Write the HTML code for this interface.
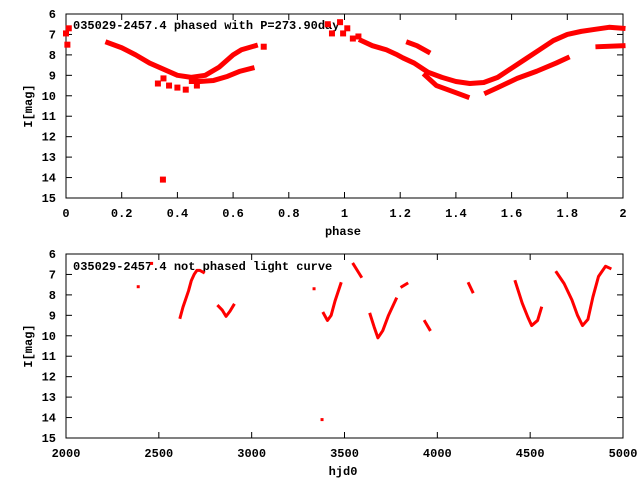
<!DOCTYPE html>
<html><head><meta charset="utf-8"><style>
body{margin:0;background:#fff}
svg{display:block}
text{font-family:"Liberation Mono",monospace;font-weight:bold;font-size:12px;fill:#000}
</style></head><body>
<svg id="c" width="640" height="480"></svg>
<script>
// ---- phased plot data (phase, magnitude) ----
const phIsoPhase=[0.0,0.01,0.005,0.71,0.33,0.37,0.40,0.43,0.35,0.47,0.348,0.94,0.955,0.984,0.995,1.01,1.03,1.05];
const phIsoMag  =[6.95,6.7,7.5,7.6,9.4,9.5,9.6,9.7,9.15,9.5,14.1,6.5,6.95,6.4,6.95,6.7,7.2,7.1];
const phUpperPhase=[0.15,0.2,0.25,0.3,0.35,0.4,0.45,0.5,0.55,0.6,0.63,0.68];
const phUpperMag  =[7.4,7.65,8.0,8.4,8.7,9.0,9.1,9.0,8.6,8.0,7.75,7.55];
const phLowerPhase=[0.45,0.48,0.53,0.58,0.625,0.668];
const phLowerMag  =[9.3,9.3,9.25,9.05,8.8,8.65];
const phMainPhase=[1.06,1.1,1.15,1.19,1.21,1.25,1.30,1.35,1.40,1.45,1.5,1.55,1.6,1.65,1.7,1.75,1.8,1.85,1.9,1.95,2.0];
const phMainMag  =[7.3,7.55,7.75,8.0,8.15,8.4,8.85,9.1,9.3,9.4,9.35,9.1,8.65,8.2,7.75,7.3,7.0,6.85,6.75,6.65,6.7];
const phShortPhase=[1.23,1.26,1.3];
const phShortMag  =[7.4,7.55,7.85];
const phLow2aPhase=[1.29,1.33,1.40,1.44];
const phLow2aMag  =[9.0,9.5,9.85,10.05];
const phLow2bPhase=[1.51,1.55,1.62,1.69,1.76,1.8];
const phLow2bMag  =[9.85,9.6,9.15,8.8,8.4,8.15];
const phRightPhase=[1.91,2.0];
const phRightMag  =[7.6,7.55];
// ---- unphased light curve (hjd0, magnitude) segments ----
const lcSegTimes=[
 [2615,2630,2645,2660,2675,2690,2705,2720,2740],
 [2821,2842,2862,2883,2903],
 [3387,3408,3428,3449,3480],
 [3548,3572,3589],
 [3638,3659,3680,3706,3737,3778],
 [3809,3836],
 [3933,3959],
 [4169,4190],
 [4420,4457,4488,4508,4540,4560],
 [4642,4683,4725,4755,4782,4811,4838,4868,4906,4930]];
const lcSegMags=[
 [9.1,8.6,8.2,7.8,7.3,7.0,6.8,6.8,6.9],
 [8.55,8.75,9.05,8.8,8.5],
 [8.9,9.25,9.0,8.3,7.45],
 [6.5,6.85,7.1],
 [8.95,9.55,10.1,9.75,9.0,8.2],
 [7.6,7.45],
 [9.3,9.7],
 [7.45,7.85],
 [7.35,8.4,9.1,9.5,9.25,8.65],
 [6.9,7.45,8.25,9.0,9.5,9.2,8.1,7.1,6.6,6.7]];
const lcIsoTimes=[2389,2461,3336,3379];
const lcIsoMags =[7.6,6.46,7.7,14.1];
const magTicks=[6,7,8,9,10,11,12,13,14,15];
const phaseTicks=[0,0.2,0.4,0.6,0.8,1,1.2,1.4,1.6,1.8,2];
const phaseTickLabels=["0","0.2","0.4","0.6","0.8","1","1.2","1.4","1.6","1.8","2"];
const hjdTicks=[2000,2500,3000,3500,4000,4500,5000];

const svg=document.getElementById('c');
const NS='http://www.w3.org/2000/svg';
function mk(tag,attrs,parent){const e=document.createElementNS(NS,tag);for(const k in attrs)e.setAttribute(k,attrs[k]);(parent||svg).appendChild(e);return e;}
const L=66,R=623;
const pTop={y0:14,y1:198}, pBot={y0:254,y1:438};
const yS=(p)=>m=>p.y0+(m-6)/9*(p.y1-p.y0);
const xPh=v=>L+v/2*(R-L);
const xT=v=>L+(v-2000)/3000*(R-L);

function frame(p,xt,xlab,xf,xname,name){
  const g=mk('g',{});
  
  
  const ys=yS(p);
  magTicks.forEach(m=>{const y=ys(m);
    mk('line',{x1:L,x2:L+6,y1:y,y2:y,stroke:'#000'},g);
    mk('line',{x1:R-6,x2:R,y1:y,y2:y,stroke:'#000'},g);
    const t=mk('text',{x:56,y:y+4,'text-anchor':'end'},g);t.textContent=m;
    
    
  });
  xt.forEach((v,i)=>{const x=xf(v);
    mk('line',{x1:x,x2:x,y1:p.y1,y2:p.y1-6,stroke:'#000'},g);
    mk('line',{x1:x,x2:x,y1:p.y0,y2:p.y0+6,stroke:'#000'},g);
    const t=mk('text',{x:x,y:p.y1+19,'text-anchor':'middle'},g);t.textContent=xlab[i];
    
    
  });
  mk('rect',{x:L,y:p.y0,width:R-L,height:p.y1-p.y0,fill:'none',stroke:'#000'},g);
  const yl=mk('text',{x:0,y:0,transform:`translate(32,${(p.y0+p.y1)/2}) rotate(-90)`,'text-anchor':'middle'},g);yl.textContent='I[mag]';
  
  
  const xl=mk('text',{x:343,y:p.y1+37,'text-anchor':'middle'},g);xl.textContent=xname;
  
  
}
frame(pTop,phaseTicks,phaseTickLabels,xPh,'phase','phased-plot');
frame(pBot,hjdTicks,hjdTicks.map(String),xT,'hjd0','lightcurve-plot');

const t1=mk('text',{x:73,y:29});t1.textContent='035029-2457.4 phased with P=273.90day';


const t2=mk('text',{x:73,y:270});t2.textContent='035029-2457.4 not phased light curve';



const ysT=yS(pTop), ysB=yS(pBot);
function seg(xs,ms,xf,yf,w,name){
  const pts=xs.map((v,i)=>xf(v)+','+yf(ms[i])).join(' ');
  const e=mk('polyline',{points:pts,fill:'none',stroke:'#f00','stroke-width':w,'stroke-linejoin':'round','stroke-linecap':'square'});
  
  
}
function pts(xs,ms,xf,yf,s,name){
  xs.forEach((v,i)=>{const r=mk('rect',{x:xf(v)-s/2,y:yf(ms[i])-s/2,width:s,height:s,fill:'#f00'});
    
    });
}
seg(phUpperPhase,phUpperMag,xPh,ysT,5,'phased-upper-branch');
seg(phLowerPhase,phLowerMag,xPh,ysT,5,'phased-lower-branch');
seg(phMainPhase,phMainMag,xPh,ysT,5,'phased-main-branch');
seg(phShortPhase,phShortMag,xPh,ysT,5,'phased-short-branch');
seg(phLow2aPhase,phLow2aMag,xPh,ysT,5,'phased-lower-branch-2a');
seg(phLow2bPhase,phLow2bMag,xPh,ysT,5,'phased-lower-branch-2b');
seg(phRightPhase,phRightMag,xPh,ysT,5,'phased-right-branch');
pts(phIsoPhase,phIsoMag,xPh,ysT,6,'phased-point');
lcSegTimes.forEach((ts,i)=>seg(ts,lcSegMags[i],xT,ysB,3,'lightcurve-segment'));
pts(lcIsoTimes,lcIsoMags,xT,ysB,3,'lightcurve-point');
</script>
</body></html>
